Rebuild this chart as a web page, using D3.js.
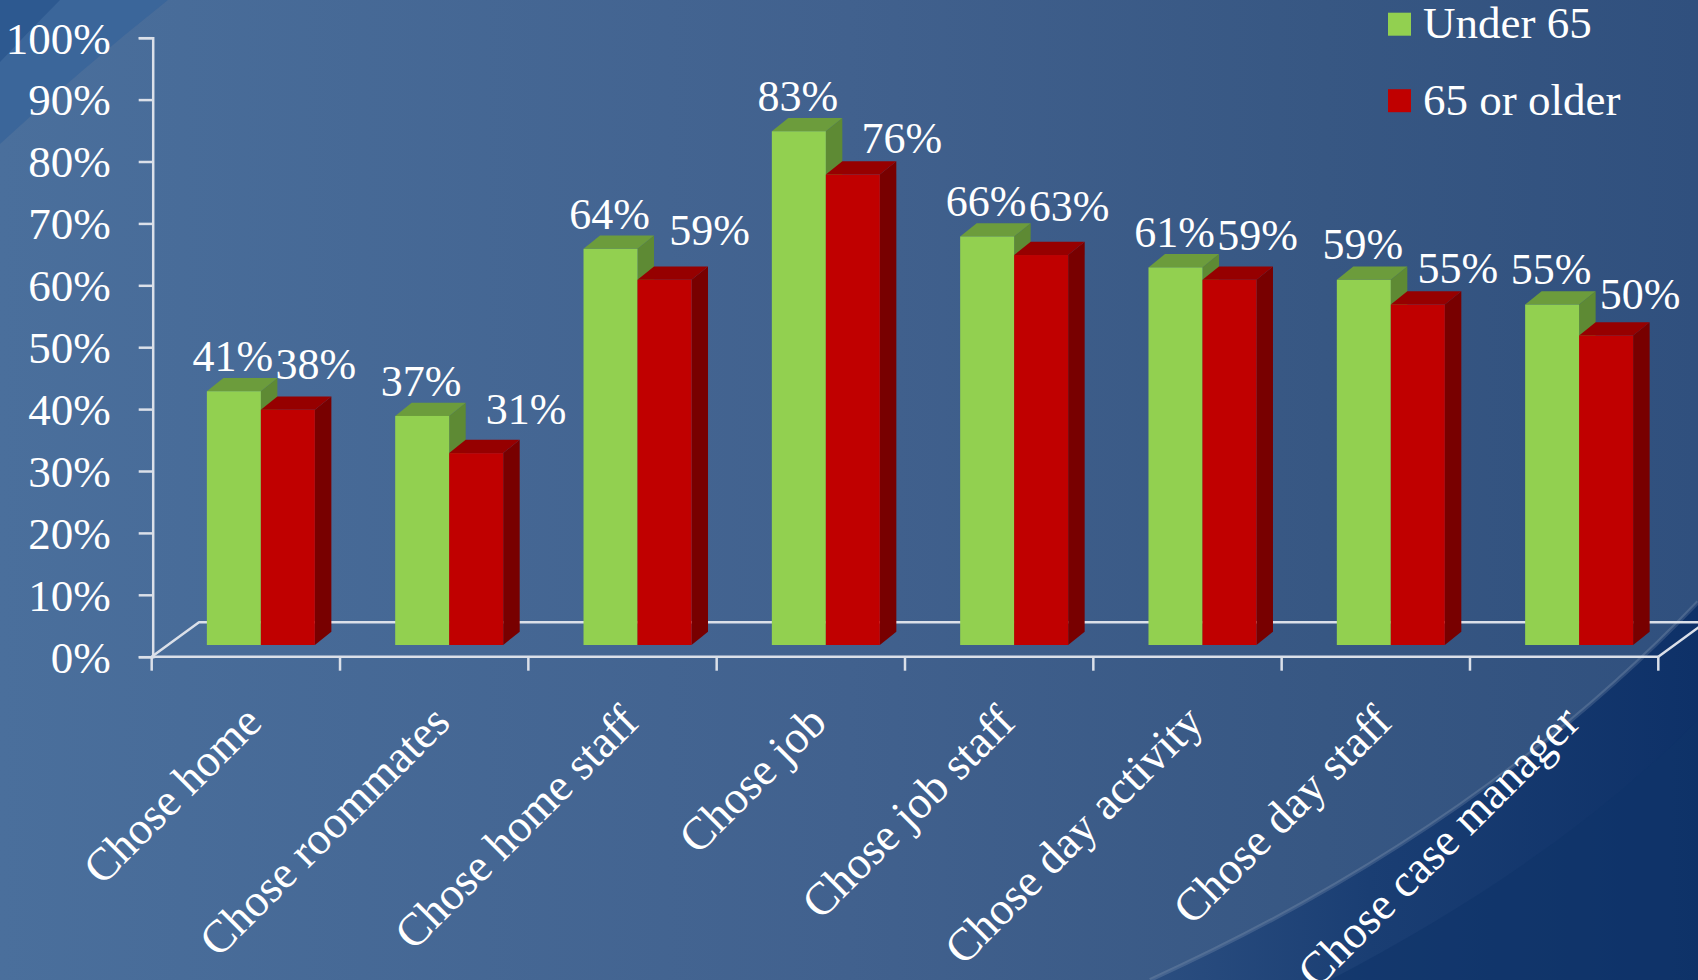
<!DOCTYPE html>
<html>
<head>
<meta charset="utf-8">
<script src="https://cdn.jsdelivr.net/npm/d3@7"></script>
<style>
  html, body { margin: 0; padding: 0; background: #45699a; }
  svg { display: block; }
  text { font-family: "Liberation Serif", "Times New Roman", serif; fill: #ffffff; }
</style>
</head>
<body>
<svg id="chart" width="1698" height="980"></svg>
<script>
// ---- data ----
const categories = ["Chose home", "Chose roommates", "Chose home staff", "Chose job",
                    "Chose job staff", "Chose day activity", "Chose day staff", "Chose case manager"];
const seriesNames = ["Under 65", "65 or older"];
const under65 = [41, 37, 64, 83, 66, 61, 59, 55];
const over65  = [38, 31, 59, 76, 63, 59, 55, 50];
const yTickValues = [0, 10, 20, 30, 40, 50, 60, 70, 80, 90, 100];

// ---- layout ----
const W = 1698, H = 980;
const plotLeft = 151.7, plotRight = 1658.3;
const axisBottom = 656.7, axisTop = 37.7;
const floorDX = 47.3, floorDY = -34.4;     // floor depth (front edge -> back edge)
const planeDX = 15, planeDY = -11.7;       // front face of columns sits this far back
const depthDX = 16.5, depthDY = -13.3;     // column depth
const pairWidth = 108;

// per-label nudges for the older-group labels, relative to the column top
const olderLabelNudge = [[28, -17], [50, -16], [45, -21], [49, -8],
                         [28, -21], [28, -16], [40, -8], [34, -13]];

const colors = {
  "Under 65":    { front: "#92d050", top: "#6c9c3c", side: "#5e8a34" },
  "65 or older": { front: "#c00000", top: "#960000", side: "#780000" }
};

const svg = d3.select("#chart");
const defs = svg.append("defs");

// ---- background ----
const bg = defs.append("linearGradient").attr("id", "bgGrad")
  .attr("x1", 0).attr("y1", 0).attr("x2", 1).attr("y2", 0);
bg.append("stop").attr("offset", "0%").attr("stop-color", "#4a6f9c");
bg.append("stop").attr("offset", "50%").attr("stop-color", "#41618e");
bg.append("stop").attr("offset", "78%").attr("stop-color", "#375783");
bg.append("stop").attr("offset", "100%").attr("stop-color", "#30507e");
svg.append("rect").attr("width", W).attr("height", H).attr("fill", "url(#bgGrad)");

// top-left corner bands
svg.append("path").attr("d", "M0,0 L168,0 Q80,70 0,144 Z").attr("fill", "#3b669a");
svg.append("path").attr("d", "M0,0 L60,0 Q30,30 0,62 Z").attr("fill", "#2d5990");

// bottom-right swoosh
const sw = defs.append("linearGradient").attr("id", "swGrad")
  .attr("gradientUnits", "userSpaceOnUse")
  .attr("x1", 1150).attr("y1", 0).attr("x2", 1698).attr("y2", 0);
sw.append("stop").attr("offset", "0%").attr("stop-color", "#2b4e80");
sw.append("stop").attr("offset", "40%").attr("stop-color", "#1a3e73");
sw.append("stop").attr("offset", "100%").attr("stop-color", "#0e3168");
svg.append("path")
  .attr("d", "M1150,980 Q1480,830 1698,602 L1698,980 Z")
  .attr("fill", "url(#swGrad)");
svg.append("path")
  .attr("d", "M1150,980 Q1480,830 1698,602")
  .attr("fill", "none").attr("stroke", "rgba(255,255,255,0.13)").attr("stroke-width", 4);
svg.append("path")
  .attr("d", "M1330,980 Q1560,860 1698,720 L1698,980 Z")
  .attr("fill", "#0f3369").attr("opacity", 0.6);

// ---- scales ----
const x = d3.scaleBand().domain(categories).range([plotLeft, plotRight]).padding(0);
const xs = d3.scaleBand().domain(seriesNames).range([0, pairWidth]).padding(0);
const y = d3.scaleLinear().domain([0, 100]).range([axisBottom, axisTop]);

const lineColor = "#dbe0e9";

// ---- floor outline ----
const floor = svg.append("g").attr("fill", "none").attr("stroke", lineColor)
  .attr("stroke-width", 2.5).attr("stroke-linejoin", "round");
floor.append("path").attr("d",
  `M${plotLeft},${axisBottom} L${plotLeft + floorDX},${axisBottom + floorDY} L${W + 20},${axisBottom + floorDY}`);
floor.append("path").attr("d",
  `M${plotRight},${axisBottom} L${plotRight + floorDX},${axisBottom + floorDY}`);

// ---- y axis ----
const yAxis = d3.axisLeft(y).tickValues(yTickValues).tickSize(14).tickPadding(0)
  .tickFormat(d => d + "%");
const gy = svg.append("g").attr("transform", `translate(${plotLeft + 1},0)`).call(yAxis);
gy.select(".domain").attr("stroke", lineColor).attr("stroke-width", 2.5);
gy.selectAll(".tick line").attr("stroke", lineColor).attr("stroke-width", 2.5);
gy.selectAll(".tick text")
  .attr("x", -42).attr("dy", "0.34em")
  .style("font-size", "45px").style("font-family", "'Liberation Serif', serif")
  .attr("fill", "#ffffff");

// ---- x axis (front floor edge with boundary ticks) ----
const gx = svg.append("g");
gx.append("line").attr("x1", plotLeft).attr("x2", plotRight)
  .attr("y1", axisBottom).attr("y2", axisBottom)
  .attr("stroke", lineColor).attr("stroke-width", 2.5);
const boundaries = categories.map(c => x(c)).concat([plotRight]);
gx.selectAll("line.tick").data(boundaries).join("line").attr("class", "tick")
  .attr("x1", d => d).attr("x2", d => d)
  .attr("y1", axisBottom).attr("y2", axisBottom + 14)
  .attr("stroke", lineColor).attr("stroke-width", 2.5);

gx.selectAll("text.cat").data(categories).join("text").attr("class", "cat")
  .attr("text-anchor", "end")
  .attr("transform", d => `translate(${x(d) + x.bandwidth() / 2 + 18},${axisBottom + 68}) rotate(-45)`)
  .style("font-size", "46px")
  .text(d => d);

// ---- columns ----
const rows = categories.map((c, i) => ({ cat: c, i, vals: [under65[i], over65[i]] }));
const pairOffset = (x.bandwidth() - pairWidth) / 2 + planeDX;

function column(g, left, width, v, col) {
  const bottom = y(0) + planeDY;
  const top = y(v) + planeDY;
  const right = left + width;
  // side face
  g.append("path").attr("fill", col.side).attr("d",
    `M${right},${bottom} L${right + depthDX},${bottom + depthDY} L${right + depthDX},${top + depthDY} L${right},${top} Z`);
  // top face
  g.append("path").attr("fill", col.top).attr("d",
    `M${left},${top} L${left + depthDX},${top + depthDY} L${right + depthDX},${top + depthDY} L${right},${top} Z`);
  // front face
  g.append("rect").attr("x", left).attr("y", top).attr("width", width).attr("height", bottom - top)
    .attr("fill", col.front);
}

const bars = svg.append("g");
rows.forEach(r => {
  const g = bars.append("g");
  seriesNames.forEach((s, k) => {
    const left = x(r.cat) + pairOffset + xs(s);
    column(g, left, xs.bandwidth(), r.vals[k], colors[s]);
  });
});

// ---- value labels ----
const labels = svg.append("g").style("font-size", "44px").attr("text-anchor", "middle");
rows.forEach(r => {
  seriesNames.forEach((s, k) => {
    const cx = x(r.cat) + pairOffset + xs(s) + xs.bandwidth() / 2;
    const backTop = y(r.vals[k]) + planeDY + depthDY;
    const nudge = k === 0 ? [-1, -7] : olderLabelNudge[r.i];
    labels.append("text")
      .attr("x", cx + nudge[0]).attr("y", backTop + nudge[1])
      .text(r.vals[k] + "%");
  });
});

// ---- legend ----
const legend = svg.append("g");
seriesNames.forEach((s, k) => {
  const ly = 12.7 + k * 76.5;
  legend.append("rect").attr("x", 1388).attr("y", ly).attr("width", 23).attr("height", 23)
    .attr("fill", colors[s].front);
  legend.append("text").attr("x", 1423).attr("y", ly + 25.6)
    .style("font-size", "45px").text(s);
});
</script>
</body>
</html>
